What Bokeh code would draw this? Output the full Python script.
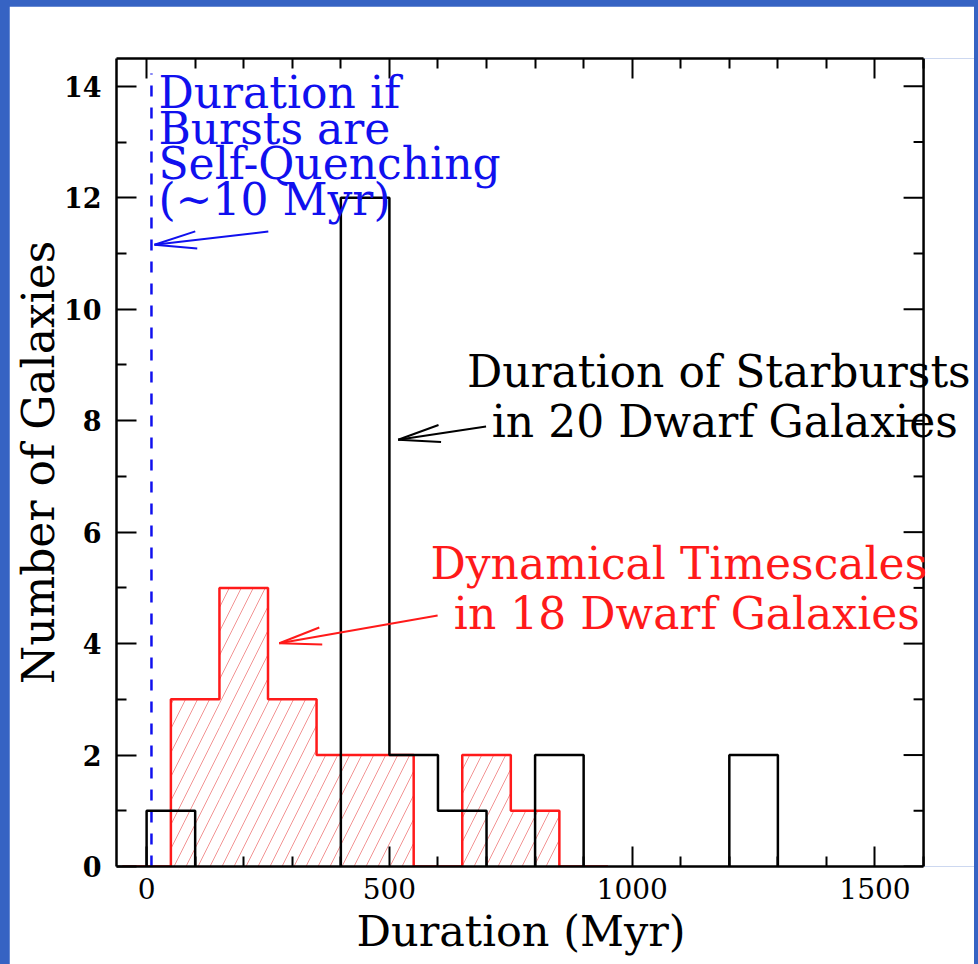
import math
from bokeh.plotting import figure
from bokeh.layouts import column
from bokeh.models import Range1d, LinearAxis, FixedTicker, Label, CustomJSTickFormatter, Title
from bokeh.embed import file_html
from bokeh.resources import INLINE

# ---------------- data ----------------
burst_edges = [0, 100, 200, 300, 400, 500, 600, 700, 800, 900, 1000, 1100, 1200, 1300]
burst_counts = [1, 0, 0, 0, 12, 2, 1, 0, 2, 0, 0, 0, 2]          # 20 dwarf galaxies
dyn_edges = [-50, 50, 150, 250, 350, 450, 550, 650, 750, 850, 950]
dyn_counts = [0, 3, 5, 3, 2, 2, 0, 2, 1, 0]                         # 18 dwarf galaxies
quench_time = 10  # Myr

x_major_ticks = [0, 500, 1000, 1500]
x_minor_ticks = [100, 200, 300, 400, 600, 700, 800, 900, 1100, 1200, 1300, 1400, 1600]
y_major_ticks = [0, 2, 4, 6, 8, 10, 12, 14]
y_minor_ticks = [1, 3, 5, 7, 9, 11, 13]

x_label = "Duration (Myr)"
y_label = "Number of Galaxies"
blue_lines = ["Duration if", "Bursts are", "Self-Quenching", "(~10 Myr)"]
black_lines = ["Duration of Starbursts", "in 20 Dwarf Galaxies"]
red_lines = ["Dynamical Timescales", "in 18 Dwarf Galaxies"]

# ---------------- layout constants ----------------
X0, X1 = -62, 1600          # visible axis box
Y0, Y1 = 0, 14.5
FL, FT, FR, FB = 115, 58, 923, 866     # axis box in page pixels
OFFX, OFFY = 9, 6                       # figure offset inside blue border
PAGE_W = 978
CANVAS_R = 974                          # right edge of the white area
W, H = CANVAS_R - OFFX, 964 - OFFY
PXU = (FR - FL) / (X1 - X0)             # pixels per x unit
XR = X0 + (CANVAS_R - FL) / PXU         # data frame reaches canvas right edge (texts overflow the box)
PYU = (FB - FT) / (Y1 - Y0)
BLUE = "#3663c3"
FONT = "DejaVu Serif"
RED = "#ff1a1a"
QBLUE = "#1010ee"


def dx(px):
    return X0 + (px - FL) / PXU


def dy(py):
    return Y0 + (FB - py) / PYU


p = figure(width=W, height=H, x_range=Range1d(X0, XR), y_range=Range1d(Y0, Y1),
           output_backend="svg", toolbar_location=None,
           min_border_left=FL - OFFX, min_border_right=0,
           min_border_top=FT - OFFY, min_border_bottom=OFFY + H - FB,
           background_fill_color="white", border_fill_color="white",
           outline_line_color=None)
p.grid.visible = False


def style_axis(ax, major, minor, label_size, bold=False, show=True):
    ax.ticker = FixedTicker(ticks=major, minor_ticks=minor)
    ax.axis_line_color = "black"
    ax.axis_line_width = 2.5
    ax.major_tick_line_color = "black"
    ax.major_tick_line_width = 2
    ax.minor_tick_line_color = "black"
    ax.minor_tick_line_width = 2
    ax.major_tick_in = 20
    ax.major_tick_out = 0
    ax.minor_tick_in = 10
    ax.minor_tick_out = 0
    ax.major_label_text_font = FONT
    ax.major_label_text_color = "black"
    ax.major_label_text_font_size = label_size
    ax.major_label_text_font_style = "bold" if bold else "normal"
    if not show:
        ax.formatter = CustomJSTickFormatter(code="return ''")
        ax.major_label_text_font_size = "0px"
        ax.major_label_standoff = 0


xb = p.xaxis[0]
style_axis(xb, x_major_ticks, x_minor_ticks, "28px")
xb.bounds = (X0, X1)
xb.major_label_standoff = 11

# x-axis title, placed under the visible axis box (the data frame is wider than the box)
xtitle = Title(text=x_label, align="left", offset=240, standoff=5,
               text_font=FONT, text_font_size="43px", text_font_style="normal",
               text_color="black")
p.add_layout(xtitle, "below")

yl = p.yaxis[0]
style_axis(yl, y_major_ticks, y_minor_ticks, "27px", bold=True)
yl.major_label_standoff = 15
yl.axis_label = y_label
yl.axis_label_text_font = FONT
yl.axis_label_text_font_size = "44px"
yl.axis_label_text_font_style = "normal"
yl.axis_label_text_color = "black"
yl.axis_label_standoff = -3

xt = LinearAxis()
style_axis(xt, x_major_ticks, x_minor_ticks, "0px", show=False)
xt.bounds = (X0, X1)
p.add_layout(xt, "above")

# right side of the axis box with its inward ticks
p.segment(x0=[X1], y0=[Y0], x1=[X1], y1=[Y1], line_color="black", line_width=2.5)
p.segment(x0=[X1] * len(y_major_ticks), y0=y_major_ticks,
          x1=[X1 - 20 / PXU] * len(y_major_ticks), y1=y_major_ticks,
          line_color="black", line_width=2)
p.segment(x0=[X1] * len(y_minor_ticks), y0=y_minor_ticks,
          x1=[X1 - 10 / PXU] * len(y_minor_ticks), y1=y_minor_ticks,
          line_color="black", line_width=2)

# ---------------- red hatched histogram ----------------
p.quad(left=dyn_edges[:-1], right=dyn_edges[1:], top=dyn_counts, bottom=0,
       fill_alpha=0, line_color=None, hatch_pattern="/", hatch_color="#f29494",
       hatch_scale=24, hatch_weight=1)

rx, ry = [dyn_edges[0]], [0]
for i, c in enumerate(dyn_counts):
    rx += [dyn_edges[i], dyn_edges[i + 1]]
    ry += [c, c]
rx.append(dyn_edges[-1]); ry.append(0)
p.line(rx, ry, line_color=RED, line_width=2.5)

# ---------------- blue dashed line ----------------
p.segment(x0=[quench_time], y0=[0], x1=[quench_time], y1=[dy(73)],
          line_color=QBLUE, line_width=2.5, line_dash="11 11")

# ---------------- black histogram (bar outlines) ----------------
bxs, bys = [], []
i = 0
n = len(burst_counts)
while i < n:
    if burst_counts[i] == 0:
        i += 1
        continue
    j = i
    xs, ys = [burst_edges[i]], [0]
    while j < n and burst_counts[j] > 0:
        xs += [burst_edges[j], burst_edges[j + 1]]
        ys += [burst_counts[j], burst_counts[j]]
        j += 1
    xs.append(burst_edges[j]); ys.append(0)
    bxs.append(xs); bys.append(ys)
    i = j
p.multi_line(bxs, bys, line_color="black", line_width=2.5)


# ---------------- arrows ----------------
def arrow(start, tip, color, head=43, half_angle=11.5):
    sx, sy = start
    tx, ty = tip
    ang = math.atan2(sy - ty, sx - tx)
    xs = [[dx(sx), dx(tx)]]
    ys = [[dy(sy), dy(ty)]]
    for s in (-1, 1):
        a = ang + s * math.radians(half_angle)
        ex, ey = tx + head * math.cos(a), ty + head * math.sin(a)
        xs.append([dx(tx), dx(ex)])
        ys.append([dy(ty), dy(ey)])
    p.multi_line(xs, ys, line_color=color, line_width=2)


arrow((267, 231), (153, 244.3), QBLUE)
arrow((485, 426), (397, 439.3), "black")
arrow((436.5, 615), (278, 642.7), RED)


# ---------------- texts ----------------
SHIFT = 14


def add_text(px, py, text, color, align):
    p.add_layout(Label(x=dx(px), y=dy(py - SHIFT), text=text, text_color=color,
                       text_font=FONT, text_font_size="44px",
                       text_align=align, text_baseline="alphabetic"))


for k, t in enumerate(blue_lines):
    add_text(157, 106 + 35.5 * k, t, QBLUE, "left")
add_text(718, 385, black_lines[0], "black", "center")
add_text(724, 435, black_lines[1], "black", "center")
add_text(678, 577, red_lines[0], RED, "center")
add_text(686, 626.5, red_lines[1], RED, "center")

root = column(p, styles={"background-color": BLUE,
                         "padding": f"{OFFY}px {PAGE_W - CANVAS_R}px 0px {OFFX}px"})

open("out.html", "w").write(file_html(root, INLINE))
